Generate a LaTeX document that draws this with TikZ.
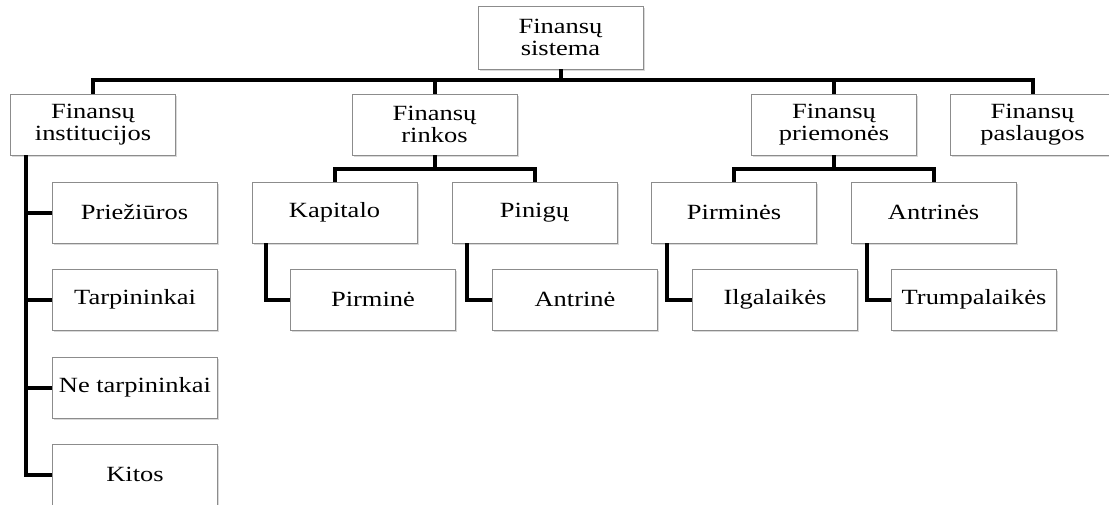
\documentclass[tikz,border=0pt]{standalone}
\usepackage{fontspec}
\setmainfont{Liberation Serif}[FakeStretch=1.22]
\usepackage{tikz}
\usetikzlibrary{shadows}
\tikzset{
    block/.style={draw=black!45, line width=0.9pt, fill=white, minimum width=165pt, minimum height=61pt,
        inner sep=0pt, align=center, drop shadow={shadow xshift=1.5pt, shadow yshift=-2pt, opacity=0.3}},
    branch/.style={line width=4pt, black},
    every node/.style={font=\fontsize{21.7}{21.7}\selectfont}
}

\begin{document}
\begin{tikzpicture}[x=1pt, y=-1pt]
    \useasboundingbox (0,0) rectangle (1109,504);
    % Top
    \node[block, minimum height=63pt] (sys) at (560.5,37.5) {Finansų\\sistema};
    % First level
    \node[block] (inst) at (93,124.5) {Finansų\\institucijos};
    \node[block] (rinkos) at (434.5,124.5) {Finansų\\rinkos};
    \node[block] (priem) at (834,124.5) {Finansų\\priemonės};
    \node[block] (pasl) at (1032.5,124.5) {Finansų\\paslaugos};
    % Institutions column
    \node[block] (prie) at (134.5,212.5) {Priežiūros};
    \node[block] (tarp) at (135,299.5) {Tarpininkai};
    \node[block] (netarp) at (135,387.5) {Ne tarpininkai};
    \node[block] (kitos) at (135,474.5) {Kitos};
    % Markets
    \node[block] (kap) at (334.5,212.5) {Kapitalo};
    \node[block] (pin) at (534.5,212.5) {Pinigų};
    \node[block] (pirmine) at (373,299.5) {Pirminė};
    \node[block] (antrine) at (575,299.5) {Antrinė};
    % Instruments
    \node[block] (pirmines) at (734,212.5) {Pirminės};
    \node[block] (antrines) at (933.5,212.5) {Antrinės};
    \node[block] (ilgal) at (775,299.5) {Ilgalaikės};
    \node[block] (trump) at (974,299.5) {Trumpalaikės};

    % Bus under the top box
    \draw[branch] (sys.south) -- ++(0,11) -| (inst.north);
    \draw[branch] (sys.south) -- ++(0,11) -| (rinkos.north);
    \draw[branch] (sys.south) -- ++(0,11) -| (priem.north);
    \draw[branch] (sys.south) -- ++(0,11) -| (pasl.north);
    % Left column
    \draw[branch] ([xshift=16pt]inst.south west) |- (prie.west);
    \draw[branch] ([xshift=16pt]inst.south west) |- (tarp.west);
    \draw[branch] ([xshift=16pt]inst.south west) |- (netarp.west);
    \draw[branch] ([xshift=16pt]inst.south west) |- (kitos.west);
    % Markets split
    \draw[branch] (rinkos.south) -- ++(0,14) -| (kap.north);
    \draw[branch] (rinkos.south) -- ++(0,14) -| (pin.north);
    \draw[branch] ([xshift=14pt]kap.south west) |- (pirmine.west);
    \draw[branch] ([xshift=15pt]pin.south west) |- (antrine.west);
    % Instruments split
    \draw[branch] (priem.south) -- ++(0,14) -| (pirmines.north);
    \draw[branch] (priem.south) -- ++(0,14) -| (antrines.north);
    \draw[branch] ([xshift=16pt]pirmines.south west) |- (ilgal.west);
    \draw[branch] ([xshift=16pt]antrines.south west) |- (trump.west);
\end{tikzpicture}
\end{document}
